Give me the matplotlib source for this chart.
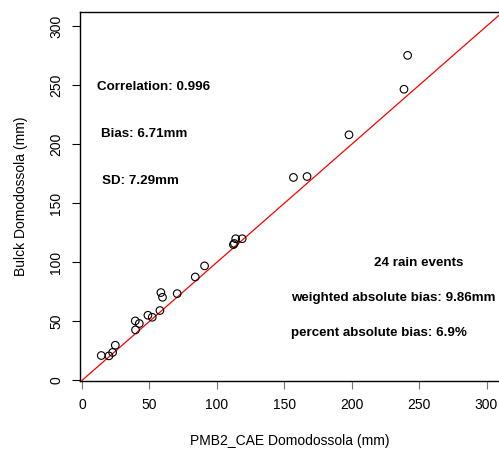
import matplotlib.pyplot as plt

# Event rain totals (mm)
pmb2 = [14.3, 20.0, 22.7, 24.7, 39.5, 39.7, 42.5, 48.9, 52.1, 57.8, 58.5, 59.7,
        70.6, 84.0, 90.9, 112.3, 113.0, 114.0, 118.8, 156.8, 166.9, 198.0, 238.8, 241.5]
bulck = [21.1, 20.8, 23.7, 29.8, 50.4, 42.8, 48.2, 55.2, 53.5, 59.2, 74.4, 70.4,
         73.5, 87.6, 97.0, 115.0, 116.0, 120.0, 120.0, 171.9, 172.7, 208.0, 246.6, 275.3]
ticks = [0, 50, 100, 150, 200, 250, 300]

plt.rcParams['font.family'] = ['Liberation Sans', 'DejaVu Sans']

fig = plt.figure(figsize=(4.99, 4.55), dpi=100)
ax = fig.add_axes([0.160, 0.1626, 0.842, 0.811])

ax.plot([0, 320], [0, 320], color="red", lw=0.9)
ax.scatter(pmb2, bulck, s=30, facecolors="none", edgecolors="black", linewidths=0.8, zorder=3)

ax.set_xlim(-1.6, 310)
ax.set_ylim(-0.5, 312)
ax.set_xticks(ticks)
ax.set_yticks(ticks)
ax.tick_params(direction="out", length=6, labelsize=10, pad=6)
ax.tick_params(axis="x", color="#777777")
for lab in ax.get_yticklabels():
    lab.set_rotation(90)
    lab.set_va("center")
for s in ax.spines.values():
    s.set_linewidth(1.0)

ax.set_xlabel("PMB2_CAE Domodossola (mm)", fontsize=10, labelpad=16)
ax.set_ylabel("Bulck Domodossola (mm)", fontsize=10, labelpad=15)

# Stats text
kw = dict(fontsize=9.6, fontweight="bold", transform=fig.transFigure, va="center")
fig.text(97 / 499, 1 - 87 / 455, "Correlation: 0.996", **kw)
fig.text(101 / 499, 1 - 134 / 455, "Bias: 6.71mm", **kw)
fig.text(102 / 499, 1 - 181 / 455, "SD: 7.29mm", **kw)
fig.text(419 / 499, 1 - 263 / 455, "24 rain events", ha="center", **kw)
fig.text(291 / 499, 1 - 298 / 455, "weighted absolute bias: 9.86mm", **kw)
fig.text(291 / 499, 1 - 333 / 455, "percent absolute bias: 6.9%", **kw)

fig.savefig("out.png", dpi=100)
